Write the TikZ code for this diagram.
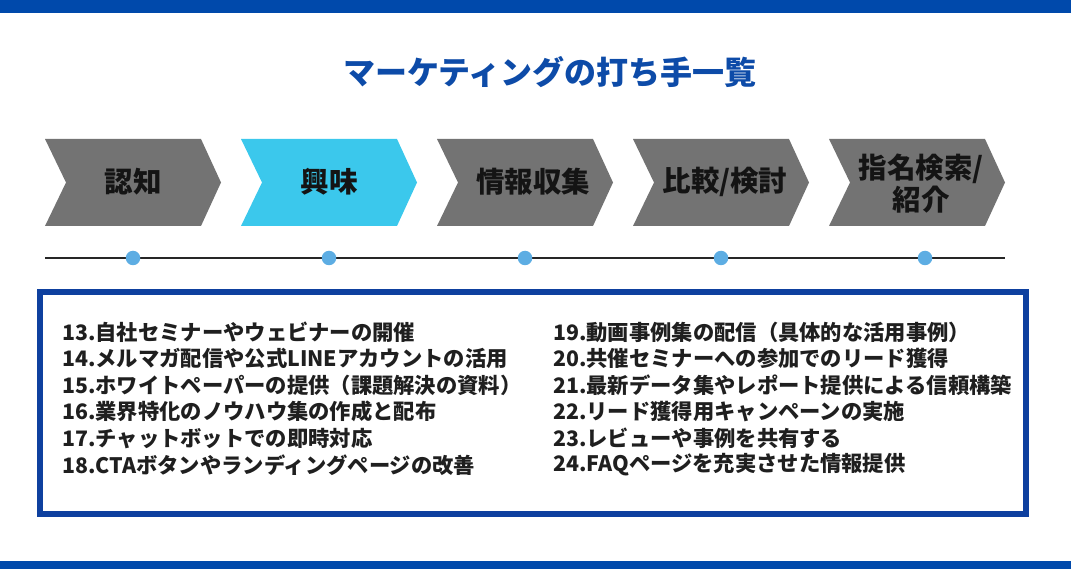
\documentclass[tikz,border=0pt]{standalone}
\usepackage{fontspec}
\setmainfont{Noto Sans CJK JP}
\definecolor{barblue}{HTML}{0049AB}
\definecolor{titleblue}{HTML}{0D4BA8}
\definecolor{boxblue}{HTML}{0E409F}
\definecolor{stepgray}{HTML}{737373}
\definecolor{stepcyan}{HTML}{3BC8EC}
\definecolor{dotblue}{HTML}{5DADE3}

\begin{document}
\begin{tikzpicture}[x=1pt,y=-1pt]
\tikzstyle{every node}+=[inner sep=0pt]
\tikzstyle{steptext}=[font=\fontsize{28.5}{32}\selectfont\bfseries, text=black!92, align=center]
\tikzstyle{dot}=[circle, fill=dotblue, minimum size=14.5pt]
\tikzstyle{item}=[anchor=west, font=\fontsize{21.3}{26}\selectfont\bfseries, text=black!88]
\useasboundingbox (0,0) rectangle (1071,569);
% frame bars
\fill [barblue] (0,0) rectangle (1071,13);
\fill [barblue] (0,561) rectangle (1071,569);
% title
\node [font=\fontsize{32}{36}\selectfont\bfseries, text=titleblue] (title) at (550,72) {マーケティングの打ち手一覧};
% steps
\foreach \i/\col in {0/stepgray,1/stepcyan,2/stepgray,3/stepgray,4/stepgray}
  \fill [\col] (45+196*\i,139) -- (201+196*\i,139) -- (221+196*\i,182.5)
    -- (201+196*\i,226) -- (45+196*\i,226) -- (66+196*\i,182.5) -- cycle;
\node [steptext] (s1) at (133,182) {認知};
\node [steptext] (s2) at (329,182) {興味};
\node [steptext] (s3) at (533,182) {情報収集};
\node [steptext] (s4) at (725,182) {比較/検討};
\node [steptext] (s5) at (921,184) {指名検索/\\紹介};
% timeline
\coordinate (tl) at (45,258);
\coordinate (tr) at (1005,258);
\draw [line width=1.6pt, black!85] (tl) -- (tr);
\node [dot] (d1) at (133,258) {};
\node [dot] (d2) at (329,258) {};
\node [dot] (d3) at (525,258) {};
\node [dot] (d4) at (721,258) {};
\node [dot] (d5) at (925,258) {};
% list box
\draw [boxblue, line width=5.5pt] (40,292) rectangle (1026,514);
\foreach \t [count=\k from 0] in {13.自社セミナーやウェビナーの開催,
    14.メルマガ配信や公式LINEアカウントの活用,
    15.ホワイトペーパーの提供（課題解決の資料）,
    16.業界特化のノウハウ集の作成と配布,
    17.チャットボットでの即時対応,
    18.CTAボタンやランディングページの改善}
  \node [item] (a\k) at (62,332+26.6*\k) {\t};
\foreach \t [count=\k from 0] in {19.動画事例集の配信（具体的な活用事例）,
    20.共催セミナーへの参加でのリード獲得,
    21.最新データ集やレポート提供による信頼構築,
    22.リード獲得用キャンペーンの実施,
    23.レビューや事例を共有する,
    24.FAQページを充実させた情報提供}
  \node [item] (b\k) at (553,332+26.6*\k) {\t};
\end{tikzpicture}
\end{document}
